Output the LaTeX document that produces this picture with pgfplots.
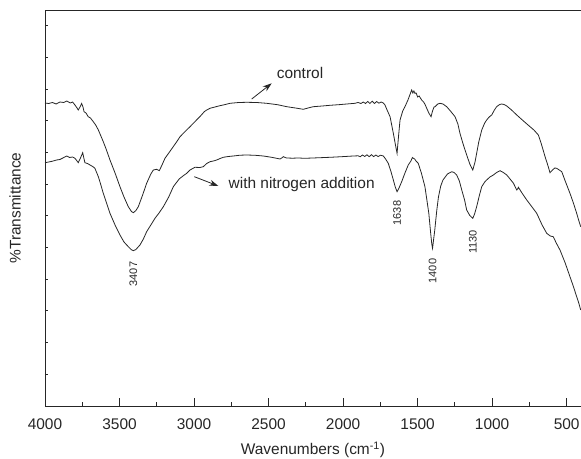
\documentclass[border=0pt]{standalone}
\usepackage{fontspec}
\setmainfont{Liberation Sans}
\usepackage{pgfplots}
\pgfplotsset{compat=1.18}
\usetikzlibrary{arrows.meta}

\pgfplotstableread{
wn y
4000 303
3975 302.5
3950 303.5
3925 302
3900 304
3875 303.5
3854 305
3830 303
3815 304
3799 301
3785 298
3777 296
3765 299
3754 302.5
3745 299
3738 294.3
3725 293
3710 289.3
3695 288
3676 284.3
3660 281
3642 276
3625 270
3609 264.3
3590 257
3564 246
3530 233
3497 219.3
3470 209
3441 199.3
3420 194.5
3407 193.3
3390 195.5
3374 199.3
3345 211
3318 222.7
3290 232
3273 236
3251 236.7
3233 235.3
3215 241
3195 247.7
3160 255
3116 264.3
3094 269.3
3060 274.5
3027 279.3
3005 282.7
2960 289.5
2930 294.5
2915 296
2893 297.7
2860 299
2826 300.3
2790 301.5
2759 302.7
2700 303.5
2647 303.7
2580 303.5
2513 302.7
2440 301.3
2378 299.3
2320 298
2267 296.7
2235 298
2200 299.3
2140 300
2088 300.7
2030 301.3
1976 302
1920 302.7
1900 303.5
1880 302.5
1865 304
1850 302.5
1835 304.5
1820 302.5
1805 304.8
1790 302.5
1775 304.5
1760 302.8
1745 304
1730 303
1719 301
1705 296
1685 289.3
1663 272.7
1650 262
1638 252.7
1628 270
1618 286
1600 295
1585 299.3
1565 306
1550 312
1540 316
1532 313
1525 315
1518 312.7
1510 313
1500 309
1490 310
1473 306
1460 304
1450 301.5
1439 297.7
1425 293
1410 289.3
1400 295
1390 299
1383 299.3
1365 302
1350 302.7
1330 302
1305 299.3
1280 295
1249 289.3
1230 282
1216 272.7
1195 262
1171 251
1150 242
1130 236
1115 244
1104 252.7
1090 264
1070 276
1050 283
1037 286
1020 289
1003 291
985 296
970 299.3
950 301.5
936 302
920 301.5
902 300
870 296
835 291
790 285
746 279.3
720 276
690 271
670 262
645 249.3
625 240
612 233.3
595 236
580 238
567 237.7
550 236
533 234.3
510 225
478 212.7
455 203
433 192.7
420 186
406 179.3
}\control

\pgfplotstableread{
wn y
4000 243.3
3975 244
3950 244.8
3922 246
3900 246.5
3880 248
3854 250
3835 248.5
3815 249
3799 247.7
3785 245
3777 243.3
3762 248
3747 253.3
3738 247
3732 243.3
3715 242.5
3698 241
3680 239.5
3665 237.7
3655 234
3642 229.3
3625 221
3609 212.7
3585 202
3564 192.7
3530 181
3497 171
3470 164
3441 159.3
3420 156.2
3407 155.3
3390 156.5
3363 161
3340 167
3318 174.3
3290 181
3262 187.7
3235 193
3206 199.3
3170 209
3139 219.3
3100 227
3070 230.5
3049 232.7
3027 236
2994 238.7
2960 238.5
2938 239.3
2915 242.5
2893 244.3
2870 245
2848 246
2825 247.5
2804 248.7
2770 249.5
2737 250
2690 250.8
2647 251
2590 250.7
2535 250
2480 248.7
2423 247
2410 248.2
2401 249.3
2380 248
2340 247.8
2300 248
2256 247.7
2170 248.2
2088 248.7
2010 249.3
1932 250
1900 250.2
1885 249.3
1870 251
1855 249.5
1840 251.2
1825 249.3
1810 251.3
1795 249.4
1780 251
1765 249.4
1750 250.8
1730 250
1715 247
1697 242.7
1680 235
1663 226
1650 219
1638 214.3
1625 218
1607 224.3
1585 233
1563 241
1545 245
1535 248.5
1529 247.7
1520 247
1510 244.8
1496 242.7
1475 233
1451 219.3
1435 203
1425 192.7
1412 172
1405 162
1400 157.7
1394 165
1385 176
1372 195
1360 209.3
1345 220
1330 226
1300 232
1271 234.3
1255 233.5
1238 231
1220 225
1204 216
1185 206
1171 196
1150 190.5
1130 187.7
1118 192
1104 199.3
1085 211
1070 219.3
1050 224
1037 226
1015 229
992 231
970 233.5
947 235.3
925 233.5
902 231
880 227
857 222.7
835 216
827 217.5
824 218.7
800 213
768 206
735 199.5
701 192.7
665 181
634 172.7
610 170
590 169.3
570 163
545 156
510 143
478 129.3
455 119.5
433 109.3
418 102.5
406 96
}\nitrogen

\begin{document}
\begin{tikzpicture}
\useasboundingbox (-45bp,-53bp) rectangle (536bp,406bp);
\begin{axis}[
  scale only axis,
  width=536bp, height=396bp,
  x dir=reverse,
  xmin=404, xmax=4000,
  ymin=0, ymax=396,
  axis x line*=box,
  axis y line*=left,
  axis line style={-, line width=0.9bp, black!85},
  xtick={500,1000,...,4000},
  minor x tick num=1,
  xtick pos=left,
  ytick={31.7,63.4,95.1,126.8,158.5,190.2,221.9,253.6,285.3,317,348.7,380.4},
  yticklabels={},
  tick align=inside,
  tick style={line width=0.8bp, black!85},
  x tick style={/pgfplots/major tick length=8bp, /pgfplots/minor tick length=4bp},
  y tick style={/pgfplots/major tick length=3bp},
  /pgf/number format/assume math mode=true,
  /pgf/number format/1000 sep={},
  ticklabel style={font=\fontsize{15.5}{18}\selectfont, text=black!85},
  xticklabel style={yshift=-9bp},
  label style={font=\fontsize{15.5}{18}\selectfont, text=black!85},
  xlabel={Wavenumbers (cm\textsuperscript{-1})},
  xlabel style={at={(axis description cs:0.5,0)}, anchor=center, yshift=-44bp},
  ylabel={\%Transmittance},
  ylabel style={at={(axis description cs:0,0.5)}, anchor=center, yshift=30bp},
  clip=false,
]
\addplot[black!85, line width=0.8bp] table[x=wn, y=y] {\control};
\addplot[black!85, line width=0.8bp] table[x=wn, y=y] {\nitrogen};

\node[font=\fontsize{15.5}{18}\selectfont, text=black!85] at (axis cs:2289,333) {control};
\node[font=\fontsize{15.5}{18}\selectfont, text=black!85] at (axis cs:2278,221) {with nitrogen addition};
\draw[-{Stealth[length=9bp,width=6bp]}, line width=0.8bp, black!85]
  (axis cs:2613,307) -- (axis cs:2479,322.7);
\draw[-{Stealth[length=9bp,width=6bp]}, line width=0.8bp, black!85]
  (axis cs:2998,229.3) -- (axis cs:2837,220);

\begin{scope}[every node/.style={rotate=90, font=\fontsize{11}{13}\selectfont, text=black!85}]
\node at (axis cs:3407,132) {3407};
\node at (axis cs:1638,193) {1638};
\node at (axis cs:1400,135) {1400};
\node at (axis cs:1130,164) {1130};
\end{scope}
\end{axis}
\end{tikzpicture}
\end{document}
